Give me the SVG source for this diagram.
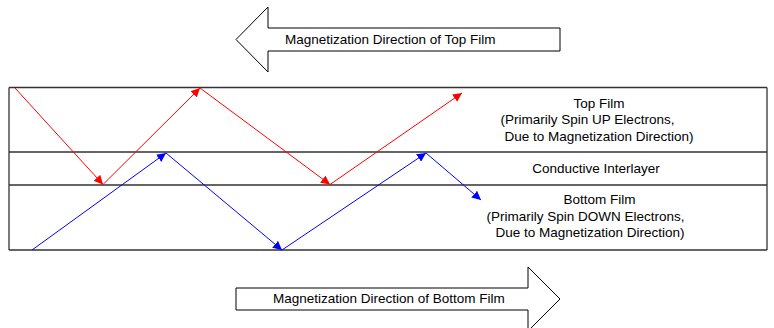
<svg xmlns="http://www.w3.org/2000/svg" width="774" height="328" viewBox="0 0 774 328">
<defs>
<style>
text{font-family:"Liberation Sans",Arial,sans-serif;font-size:13.5px;fill:#000}
.big{fill:#fff;stroke:#000;stroke-width:1}
.layer{stroke:#333;stroke-width:1.3;fill:none}
.red{stroke:#f00;stroke-width:1;fill:none;marker-end:url(#ar)}
.blue{stroke:#00f;stroke-width:1;fill:none;marker-end:url(#ab)}
</style>
<marker id="ar" viewBox="0 0 10 10" refX="10" refY="5" markerWidth="9" markerHeight="9" markerUnits="userSpaceOnUse" orient="auto"><path d="M0,0L10,5L0,10z" fill="#f00"/></marker>
<marker id="ab" viewBox="0 0 10 10" refX="10" refY="5" markerWidth="9" markerHeight="9" markerUnits="userSpaceOnUse" orient="auto"><path d="M0,0L10,5L0,10z" fill="#00f"/></marker>
</defs>
<g id="top-arrow">
<path class="big" d="M236,39.5L268,7V28H560V51H268V72Z"/>
<text x="285" y="44">Magnetization Direction of Top Film</text>
</g>
<g id="bottom-arrow">
<path class="big" d="M236,288H528V267L560,299L528,331V310H236Z"/>
<text x="273" y="303">Magnetization Direction of Bottom Film</text>
</g>
<g id="layers">
<path class="layer" d="M9,87.5H767M9,152H767M9,185H767M9,250H767M9,87.5V250M767,87.5V250"/>
</g>
<g id="top-film">
<text x="599" y="107.5" text-anchor="middle">Top Film</text>
<text x="587.5" y="124" text-anchor="middle">(Primarily Spin UP Electrons,</text>
<text x="599" y="140.5" text-anchor="middle">Due to Magnetization Direction)</text>
</g>
<g id="interlayer">
<text x="596" y="172.5" text-anchor="middle">Conductive Interlayer</text>
</g>
<g id="bottom-film">
<text x="599.5" y="204" text-anchor="middle">Bottom Film</text>
<text x="585.5" y="220.5" text-anchor="middle">(Primarily Spin DOWN Electrons,</text>
<text x="590" y="237" text-anchor="middle">Due to Magnetization Direction)</text>
</g>
<g id="connectors">
<path class="red" d="M15,88L103,184.5"/>
<path class="red" d="M103,184.5L200,88"/>
<path class="red" d="M200,88L330,184.5"/>
<path class="red" d="M330,184.5L462,93"/>
<path class="blue" d="M32,250L166,153"/>
<path class="blue" d="M166,153L282,250"/>
<path class="blue" d="M282,250L426,153"/>
<path class="blue" d="M426,153L481,200"/>
</g>
</svg>
